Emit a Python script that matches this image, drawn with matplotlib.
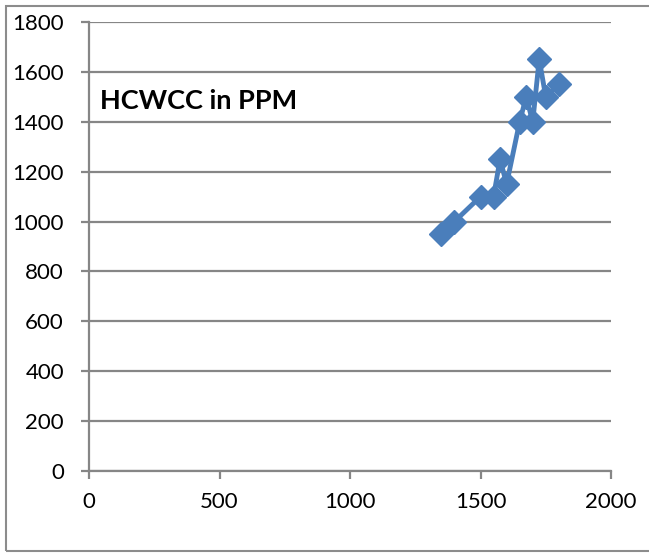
"""HCWCC in PPM line chart"""

import matplotlib
matplotlib.use("Agg")
import matplotlib.pyplot as plt
from matplotlib.patches import Rectangle

# data
speed = [1350, 1400, 1500, 1550, 1575, 1600, 1650, 1675, 1700, 1725, 1750, 1800]
hcwcc = [950, 1000, 1100, 1100, 1250, 1150, 1400, 1500, 1400, 1650, 1500, 1550]
x_ticks = [0, 500, 1000, 1500, 2000]
y_ticks = [0, 200, 400, 600, 800, 1000, 1200, 1400, 1600, 1800]

plt.rcParams['font.family'] = ['Lato', 'DejaVu Sans']

W, H = 649, 553
fig = plt.figure(figsize=(W / 100, H / 100), dpi=100)
ax = fig.add_axes([89 / W, 1 - 471 / H, (611 - 89) / W, (471 - 22) / H])

grid_col = '#868686'
ax.plot(speed, hcwcc, color='#4a7ebb', lw=3.5, marker='D', ms=12.5,
        markerfacecolor='#4a7ebb', markeredgecolor='#4a7ebb', zorder=3)

ax.set_xlim(0, 2000)
ax.set_ylim(0, 1800)
ax.set_xticks(x_ticks)
ax.set_yticks(y_ticks)
ax.yaxis.grid(True, color=grid_col, lw=1.6)
ax.set_axisbelow(True)
for side in ('top', 'right'):
    ax.spines[side].set_visible(False)
for side in ('left', 'bottom'):
    ax.spines[side].set_color(grid_col)
    ax.spines[side].set_linewidth(1.6)
ax.tick_params(axis='both', direction='out', length=6, width=1.6,
               color=grid_col, labelsize=16, labelcolor='black')
ax.tick_params(axis='x', pad=9)
ax.tick_params(axis='y', pad=12)

ax.text(100 / W, 1 - 101 / H, 'HCWCC in PPM', transform=fig.transFigure,
        fontsize=19.5, fontweight='bold', va='center', ha='left')

fig.patches.append(Rectangle((6 / W, 2 / H), 1.0, 1 - 8 / H,
                             transform=fig.transFigure, fill=False,
                             edgecolor='#8c8c8c', lw=1.5))

fig.savefig('out.png', dpi=100)
